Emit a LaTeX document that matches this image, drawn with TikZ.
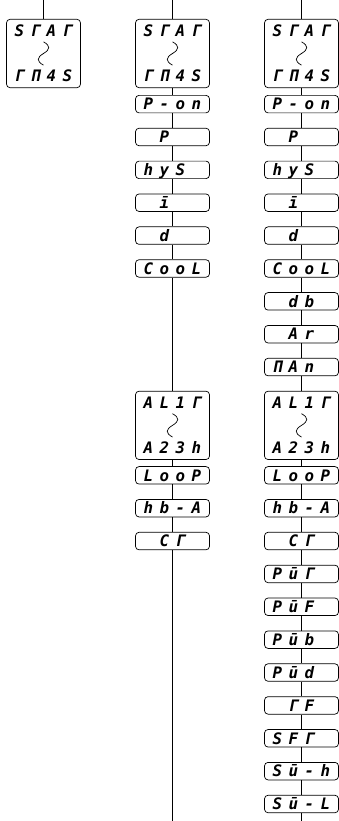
\documentclass[tikz,border=0pt]{standalone}
\usepackage{fontspec}
\usepackage{tikz}
\usetikzlibrary{positioning,calc}
\newfontfamily\segfont{DejaVu Sans Mono}
% four display cells
\newcommand{\seg}[4]{\makebox[0.48cm]{#1}\makebox[0.48cm]{#2}\makebox[0.48cm]{#3}\makebox[0.48cm]{#4}}
% range mark inside a two-line box
\newcommand{\wave}[1]{\draw[semithick] ($(#1.center)+(0,0.35)$) .. controls +(0.22,-0.12) and +(0.2,0.12) .. (#1.center) .. controls +(-0.2,-0.12) and +(-0.22,0.12) .. ($(#1.center)+(0,-0.35)$);}

\begin{document}
\begin{tikzpicture}[
                node distance=0.44cm,
                segbox/.style={rectangle, rounded corners=3pt, draw, semithick, fill=white, inner sep=0pt, minimum width=2.22cm, minimum height=0.525cm, text height=0.345cm, text depth=0cm, font=\segfont\bfseries\itshape\fontsize{13.5pt}{16pt}\selectfont},
                rangebox/.style={rectangle, rounded corners=3pt, draw, semithick, fill=white, inner sep=0pt, minimum width=2.22cm, minimum height=2.05cm, align=center, font=\segfont\bfseries\itshape\fontsize{13.5pt}{16pt}\selectfont},
                link/.style={semithick}
                ]
                \useasboundingbox (0,0) rectangle (10.17,-24.63);

                % left column
                \coordinate (top1) at (1.305,0);
                \node[rangebox] (stat1) at (1.305,-1.605) {\seg{S}{Γ}{A}{Γ}\\[22pt]\seg{Γ}{Π}{4}{S}};

                % middle column
                \coordinate (top2) at (5.175,0);
                \node[rangebox] (stat2) at (5.175,-1.605) {\seg{S}{Γ}{A}{Γ}\\[22pt]\seg{Γ}{Π}{4}{S}};
                \node[segbox, below=0.21cm of stat2] (pon2) {\seg{P}{-}{o}{n}};
                \node[segbox, below=of pon2] (p2) {\seg{}{P}{}{}};
                \node[segbox, below=of p2] (hys2) {\seg{h}{y}{S}{}};
                \node[segbox, below=of hys2] (i2) {\seg{}{ī}{}{}};
                \node[segbox, below=of i2] (d2) {\seg{}{d}{}{}};
                \node[segbox, below=of d2] (cool2) {\seg{C}{o}{o}{L}};

                % right column
                \coordinate (top3) at (9.045,0);
                \node[rangebox] (stat3) at (9.045,-1.605) {\seg{S}{Γ}{A}{Γ}\\[22pt]\seg{Γ}{Π}{4}{S}};
                \node[segbox, below=0.21cm of stat3] (pon3) {\seg{P}{-}{o}{n}};
                \node[segbox, below=of pon3] (p3) {\seg{}{P}{}{}};
                \node[segbox, below=of p3] (hys3) {\seg{h}{y}{S}{}};
                \node[segbox, below=of hys3] (i3) {\seg{}{ī}{}{}};
                \node[segbox, below=of i3] (d3) {\seg{}{d}{}{}};
                \node[segbox, below=of d3] (cool3) {\seg{C}{o}{o}{L}};
                \node[segbox, below=of cool3] (db3) {\seg{}{d}{b}{}};
                \node[segbox, below=of db3] (ar3) {\seg{}{A}{r}{}};
                \node[segbox, below=of ar3] (man3) {\seg{Π}{A}{n}{}};
                \node[rangebox, below=of man3] (alt3) {\seg{A}{L}{1}{Γ}\\[22pt]\seg{A}{2}{3}{h}};
                \node[segbox, below=0.19cm of alt3] (loop3) {\seg{L}{o}{o}{P}};
                \node[segbox, below=of loop3] (hba3) {\seg{h}{b}{-}{A}};
                \node[segbox, below=of hba3] (ct3) {\seg{}{C}{Γ}{}};
                \node[segbox, below=of ct3] (pvt3) {\seg{P}{ū}{Γ}{}};
                \node[segbox, below=of pvt3] (pvf3) {\seg{P}{ū}{F}{}};
                \node[segbox, below=of pvf3] (pvb3) {\seg{P}{ū}{b}{}};
                \node[segbox, below=of pvb3] (pvd3) {\seg{P}{ū}{d}{}};
                \node[segbox, below=of pvd3] (tf3) {\seg{}{Γ}{F}{}};
                \node[segbox, below=of tf3] (sft3) {\seg{S}{F}{Γ}{}};
                \node[segbox, below=of sft3] (svh3) {\seg{S}{ū}{-}{h}};
                \node[segbox, below=of svh3] (svl3) {\seg{S}{ū}{-}{L}};
                \coordinate (end3) at (9.045,-24.63);

                % middle column, lower part level with the right one
                \node[rangebox] (alt2) at (stat2 |- alt3) {\seg{A}{L}{1}{Γ}\\[22pt]\seg{A}{2}{3}{h}};
                \node[segbox, below=0.19cm of alt2] (loop2) {\seg{L}{o}{o}{P}};
                \node[segbox, below=of loop2] (hba2) {\seg{h}{b}{-}{A}};
                \node[segbox, below=of hba2] (ct2) {\seg{}{C}{Γ}{}};
                \coordinate (end2) at (5.175,-24.63);

                \wave{stat1}
                \wave{stat2}
                \wave{stat3}
                \wave{alt2}
                \wave{alt3}

                \draw[link] (top1) -- (stat1);
                \draw[link] (top2) -- (stat2) -- (pon2) -- (p2) -- (hys2) -- (i2) -- (d2) -- (cool2) -- (alt2) -- (loop2) -- (hba2) -- (ct2) -- (end2);
                \draw[link] (top3) -- (stat3) -- (pon3) -- (p3) -- (hys3) -- (i3) -- (d3) -- (cool3) -- (db3) -- (ar3) -- (man3) -- (alt3) -- (loop3) -- (hba3) -- (ct3) -- (pvt3) -- (pvf3) -- (pvb3) -- (pvd3) -- (tf3) -- (sft3) -- (svh3) -- (svl3) -- (end3);
            \end{tikzpicture}
\end{document}
